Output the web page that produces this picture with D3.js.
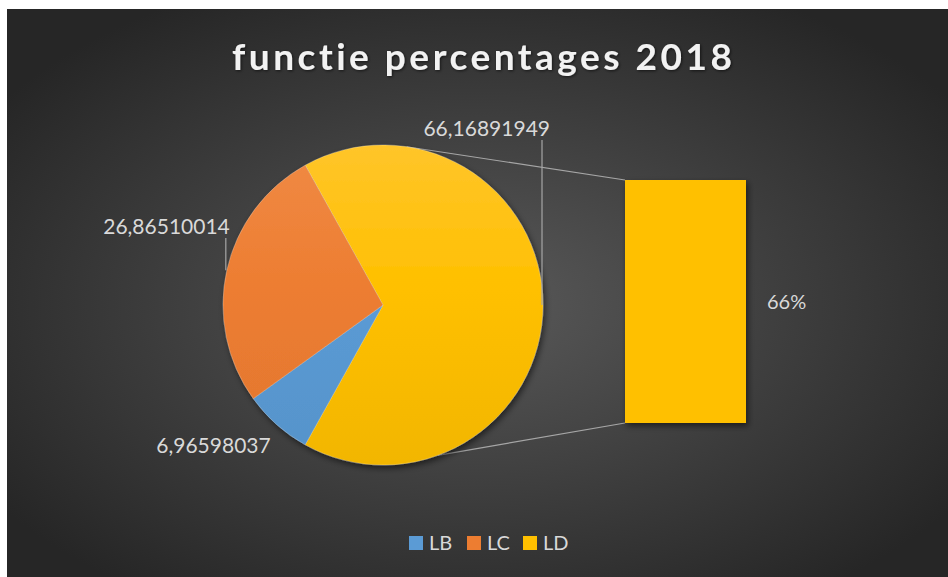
<!DOCTYPE html>
<html>
<head>
<meta charset="utf-8">
<script src="https://cdn.jsdelivr.net/npm/d3@7"></script>
<style>
  body { margin: 0; background: #ffffff; }
  svg { display: block; }
  text { font-variant-ligatures: none; font-feature-settings: "liga" 0; }
</style>
</head>
<body>
<script>
// data
var categories = ["LB", "LC", "LD"];
var values = [6.96598037, 26.86510014, 66.16891949];
var colors = ["#5B9BD5", "#ED7D31", "#FFC000"];
var lightColors = ["#66A3DB", "#F08A45", "#FFC52A"];
var secondPlot = ["LD"];   // slice that is split out into the bar
var title = "functie percentages 2018";

var width = 948, height = 577;
var cx = 383, cy = 305, r = 160;
var bar = { x: 625, w: 121, top: 180, bottom: 423 };

var svg = d3.select("body").append("svg")
    .attr("width", width)
    .attr("height", height);

var defs = svg.append("defs");

// background gradient
var bg = defs.append("radialGradient").attr("id", "bg")
    .attr("cx", "50%").attr("cy", "52%").attr("r", "62%");
bg.append("stop").attr("offset", "0%").attr("stop-color", "#595959");
bg.append("stop").attr("offset", "100%").attr("stop-color", "#262626");

var shadow = defs.append("filter").attr("id", "shadow")
    .attr("x", "-20%").attr("y", "-20%").attr("width", "140%").attr("height", "140%");
shadow.append("feDropShadow").attr("dx", 2).attr("dy", 3)
    .attr("stdDeviation", 3).attr("flood-color", "#000").attr("flood-opacity", 0.55);

var glow = defs.append("filter").attr("id", "glow");
glow.append("feDropShadow").attr("dx", 1).attr("dy", 1)
    .attr("stdDeviation", 1.5).attr("flood-color", "#000").attr("flood-opacity", 0.6);

// gradients live in the pie group's own coordinates (centred on 0,0)
categories.forEach(function (c, i) {
    var g = defs.append("linearGradient").attr("id", "grad" + c)
        .attr("gradientUnits", "userSpaceOnUse")
        .attr("x1", 0).attr("x2", 0).attr("y1", -r).attr("y2", r);
    g.append("stop").attr("offset", "0%").attr("stop-color", lightColors[i]);
    g.append("stop").attr("offset", "45%").attr("stop-color", colors[i]);
    g.append("stop").attr("offset", "100%").attr("stop-color", d3.color(colors[i]).darker(0.15));
});

svg.append("rect")
    .attr("x", 7).attr("y", 9)
    .attr("width", width - 7).attr("height", height - 9)
    .attr("fill", "url(#bg)");

// title
svg.append("text")
    .attr("x", 482).attr("y", 70)
    .attr("text-anchor", "middle")
    .attr("textLength", 500)
    .attr("lengthAdjust", "spacing")
    .style("font-family", "Lato, 'Open Sans', sans-serif")
    .style("font-weight", "bold")
    .style("font-size", "37px")
    .style("fill", "#f2f2f2")
    .attr("filter", "url(#glow)")
    .text(title);

// pie data: the bar part (LD) is the "other" slice and sits centred on 3 o'clock
var total = d3.sum(values);
var rows = categories.map(function (c, i) { return { name: c, value: values[i], color: colors[i] }; });
var other = rows.filter(function (d) { return secondPlot.indexOf(d.name) >= 0; });
var otherValue = d3.sum(other, function (d) { return d.value; });
var pieRows = [{ name: "LD", value: otherValue }].concat(rows.filter(function (d) { return secondPlot.indexOf(d.name) < 0; }));

var start = Math.PI / 2 - (otherValue / total) * Math.PI;
var pie = d3.pie().sort(null).value(function (d) { return d.value; })
    .startAngle(start).endAngle(start + 2 * Math.PI);
var arcs = pie(pieRows);
var arc = d3.arc().innerRadius(0).outerRadius(r);

function edgePoint(a, rad) {
    return [cx + rad * Math.sin(a), cy - rad * Math.cos(a)];
}

// connector lines from pie to the bar
var ys = d3.scaleLinear().domain([0, otherValue]).range([bar.bottom, bar.top]);
var connectorAngles = [8.5, 160].map(function (a) { return a * Math.PI / 180; });
svg.append("g").selectAll("line")
    .data(connectorAngles)
    .enter().append("line")
    .attr("x1", function (a) { return edgePoint(a, r)[0]; })
    .attr("y1", function (a) { return edgePoint(a, r)[1]; })
    .attr("x2", bar.x)
    .attr("y2", function (a, i) { return i === 0 ? ys(otherValue) : ys(0); })
    .attr("stroke", "#a6a6a6")
    .attr("stroke-width", 1.2);

var pieG = svg.append("g")
    .attr("transform", "translate(" + cx + "," + cy + ")")
    .attr("filter", "url(#shadow)");

pieG.selectAll("path")
    .data(arcs)
    .enter().append("path")
    .attr("d", arc)
    .attr("fill", function (d) { return "url(#grad" + d.data.name + ")"; })
    .attr("stroke", "#ffffff")
    .attr("stroke-opacity", 0.3)
    .attr("stroke-width", 0.8);

// secondary bar
var barStack = d3.stack().keys(other.map(function (d) { return d.name; }))([
    other.reduce(function (o, d) { o[d.name] = d.value; return o; }, {})
]);
svg.append("g").attr("filter", "url(#shadow)")
    .selectAll("rect")
    .data(barStack)
    .enter().append("rect")
    .attr("x", bar.x)
    .attr("width", bar.w)
    .attr("y", function (d) { return ys(d[0][1]); })
    .attr("height", function (d) { return ys(d[0][0]) - ys(d[0][1]); })
    .attr("fill", colors[2]);

svg.append("text")
    .attr("x", bar.x + bar.w + 21)
    .attr("y", (ys(0) + ys(otherValue)) / 2 + 7)
    .style("font-family", "Lato, 'Open Sans', sans-serif")
    .style("font-size", "20px")
    .style("fill", "#d9d9d9")
    .text(d3.format(".0%")(otherValue / total));

// data labels with leader lines
var labelFmt = function (v) { return String(v).replace(".", ","); };
var labelPos = {
    LD: { dx: 7, y: 136, line: true },
    LC: { dx: 3, y: 234, line: true },
    LB: { dx: -6, y: 453, line: false }
};
var labels = svg.append("g");
arcs.forEach(function (d) {
    var mid = (d.startAngle + d.endAngle) / 2;
    var p = edgePoint(mid, r);
    var pos = labelPos[d.data.name];
    if (pos.line) {
        labels.append("line")
            .attr("x1", p[0] - 1).attr("x2", p[0] - 1)
            .attr("y1", pos.y + 4).attr("y2", p[1])
            .attr("stroke", "#a6a6a6")
            .attr("stroke-width", 1.2);
    }
    labels.append("text")
        .attr("x", p[0] + pos.dx)
        .attr("y", pos.y)
        .attr("text-anchor", "end")
        .style("font-family", "Lato, 'Open Sans', sans-serif")
        .style("font-size", "21px")
        .style("fill", "#d9d9d9")
        .text(labelFmt(d.data.value));
});

// legend
var legendX = [409, 467, 523];
var legend = svg.append("g").selectAll("g")
    .data(categories)
    .enter().append("g")
    .attr("transform", function (d, i) { return "translate(" + legendX[i] + ",536)"; });
legend.append("rect")
    .attr("width", 14).attr("height", 14)
    .attr("fill", function (d, i) { return colors[i]; });
legend.append("text")
    .attr("x", 20).attr("y", 14)
    .style("font-family", "Lato, 'Open Sans', sans-serif")
    .style("font-size", "20px")
    .style("fill", "#d9d9d9")
    .text(function (d) { return d; });
</script>
</body>
</html>
